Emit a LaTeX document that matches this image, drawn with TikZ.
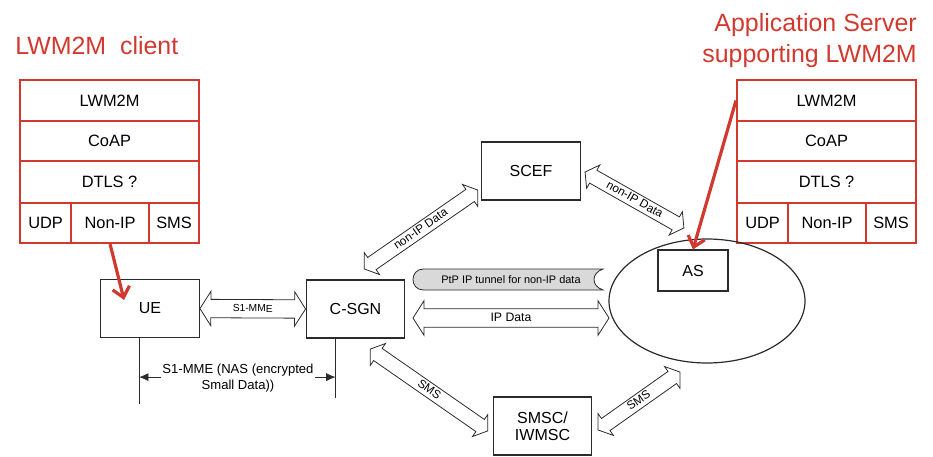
\documentclass[tikz,border=0pt]{standalone}
\usepackage{fontspec}
\setmainfont{Liberation Sans}
\usetikzlibrary{arrows.meta, positioning, shapes.geometric, shapes.arrows, calc}
\definecolor{lwred}{HTML}{D1392F}
\definecolor{pipegray}{HTML}{D9D9D9}
\definecolor{edge}{HTML}{2B2B2B}

% hollow two-headed arrow laid from one named point to another
\newcommand{\pipearrow}[5]{%
  \path let \p1=($(#3)-(#2)$), \n1={atan2(\y1,\x1)}, \n2={veclen(\x1,\y1)} in
    node[#1, rotate=\n1, minimum height=\n2] (#5) at ($(#2)!0.5!(#3)$) {#4};
}

\begin{document}
\begin{tikzpicture}[x=0.75pt, y=-0.75pt,
    entity/.style={draw=edge, line width=0.9pt, minimum width=74pt, minimum height=43.5pt, font=\fontsize{12}{12.75}\selectfont, inner sep=2pt},
    cell/.style={draw=lwred, line width=1.6pt, font=\fontsize{12.3}{14}\selectfont, inner sep=0pt, anchor=north west},
    red title/.style={text=lwred, font=\fontsize{18.7}{22}\selectfont, inner sep=0pt},
    wide pipe/.style={draw=edge, line width=0.6pt, shape=double arrow, double arrow head extend=6pt, double arrow tip angle=115, text height=7.2pt, text depth=2.4pt, inner xsep=0pt, inner ysep=1.8pt},
    thin pipe/.style={draw=edge, line width=0.6pt, shape=double arrow, double arrow head extend=4.5pt, double arrow tip angle=110, text height=6.6pt, text depth=1.9pt, inner xsep=0pt, inner ysep=1pt, font=\fontsize{8.8}{9}\selectfont},
    pointer/.style={draw=lwred, line width=2.4pt, -{Straight Barb[length=7.5pt, width=13pt]}},
]
\useasboundingbox (0,0) rectangle (933,457);

% Titles
\node[red title, anchor=base west] (client-title) at (15,54) {LWM2M~~client};
\node[red title, anchor=base east] (server-title) at (917,31) {Application Server};
\node[red title, anchor=base east] (server-title2) at (917,62) {supporting LWM2M};

% Protocol stacks (client left, server right)
\foreach \s/\x in {cl/19, sv/736} {
  \node[cell, minimum width=134.25pt, minimum height=30.75pt] (\s-lwm) at (\x,79) {LWM2M};
  \node[cell, minimum width=134.25pt, minimum height=30pt] (\s-coap) at (\x,120) {CoAP};
  \node[cell, minimum width=134.25pt, minimum height=31.5pt] (\s-dtls) at (\x,160) {DTLS ?};
  \node[cell, minimum width=38.25pt, minimum height=30pt] (\s-udp) at (\x,202) {UDP};
  \node[cell, minimum width=58.5pt, minimum height=30pt] (\s-nonip) at (\x+51,202) {Non-IP};
  \node[cell, minimum width=37.5pt, minimum height=30pt] (\s-sms) at (\x+129,202) {SMS};
}

% Network entities
\node[entity] (ue) at (150,308.5) {UE};
\node[entity] (csgn) at (355.5,309) {C-SGN};
\node[entity] (scef) at (531,171) {SCEF};
\node[entity, align=center] (smsc) at (542.5,426) {SMSC/\\IWMSC};
\node[draw=edge, ellipse, line width=0.9pt, minimum width=147pt, minimum height=93pt, inner sep=0pt] (net) at (707,301) {};
\node[entity, minimum width=52.5pt, minimum height=30.75pt] (as) at (693,270.5) {AS};

% End points of the hollow arrows
\coordinate (nip1-a) at (364,269);
\coordinate (nip1-b) at (478,190);
\coordinate (nip2-a) at (585,172);
\coordinate (nip2-b) at (684,228);
\coordinate (sms1-a) at (370,349);
\coordinate (sms1-b) at (488,431);
\coordinate (sms2-a) at (598,430);
\coordinate (sms2-b) at (680,372);
\coordinate (ipd-a) at (413,318);
\coordinate (ipd-b) at (609,318);

\pipearrow{wide pipe, font=\fontsize{7.7}{9}\selectfont}{ue.east}{csgn.west}{S1-MME}{s1mme}
\pipearrow{wide pipe, font=\fontsize{9.2}{10}\selectfont}{ipd-a}{ipd-b}{IP Data}{ipdata}
\pipearrow{thin pipe}{nip1-a}{nip1-b}{non-IP Data}{nipdata1}
\pipearrow{thin pipe}{nip2-a}{nip2-b}{non-IP Data}{nipdata2}
\pipearrow{thin pipe}{sms1-a}{sms1-b}{SMS}{sms1}
\pipearrow{thin pipe}{sms2-a}{sms2-b}{SMS}{sms2}

% PtP tunnel
\draw[fill=pipegray, draw=edge, line width=0.6pt] (603,269) -- (423.5,269)
  .. controls (409.5,269) and (409.5,290) .. (423.5,290) -- (603,290)
  .. controls (591,286) and (591,273) .. cycle;
\node[font=\fontsize{8.2}{9}\selectfont, inner sep=0pt] (tunnel) at (511,279.5) {PtP IP tunnel for non-IP data};

% NAS small data dimension
\coordinate (ue-drop) at ($(ue.south west)+(39,0)$);
\coordinate (csgn-drop) at ($(csgn.south west)+(30,0)$);
\draw[draw=edge, line width=0.6pt] (ue-drop) -- ++(0,66);
\draw[draw=edge, line width=0.6pt] (csgn-drop) -- ++(0,59);
\coordinate (dim-l) at ($(ue-drop)+(0,39)$);
\coordinate (dim-r) at (dim-l -| csgn-drop);
\draw[draw=edge, line width=0.6pt, {Latex[length=7pt, width=6pt]}-{Latex[length=7pt, width=6pt]}] (dim-l) -- (dim-r);
\node[fill=white, align=center, inner sep=1pt, font=\fontsize{9.8}{12.5}\selectfont] (nas) at (238,378) {S1-MME (NAS (encrypted\\Small Data))};

% Red pointers
\coordinate (ue-hit) at ($(ue.north west)+(24,21)$);
\draw[pointer] (cl-nonip.south) -- (ue-hit);
\draw[pointer] (sv-lwm.west) -- (as.north);

\end{tikzpicture}
\end{document}
